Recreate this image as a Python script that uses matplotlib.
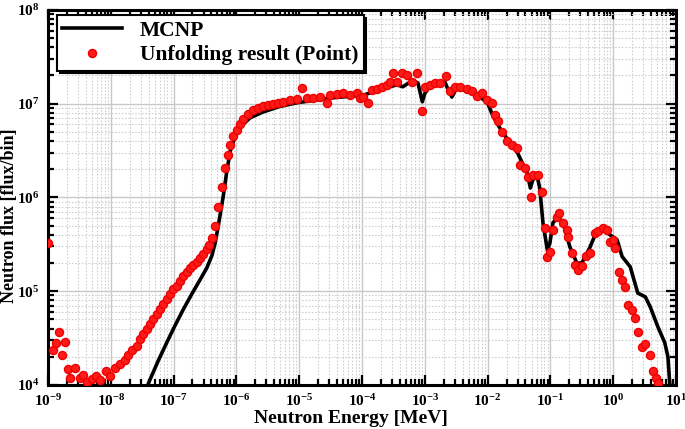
import numpy as np
import matplotlib
matplotlib.use("Agg")
import matplotlib.pyplot as plt
from matplotlib.ticker import LogLocator, NullFormatter

plt.rcParams['font.family'] = ['Liberation Serif', 'DejaVu Serif']
plt.rcParams['font.weight'] = 'bold'
plt.rcParams['mathtext.fontset'] = 'custom'
plt.rcParams['mathtext.rm'] = 'Liberation Serif:bold'
plt.rcParams['mathtext.it'] = 'Liberation Serif:bold'
plt.rcParams['mathtext.bf'] = 'Liberation Serif:bold'

# MCNP (log10 energy [MeV], log10 flux)
mcnp_log_e = [-7.41, -7.38, -7.25, -7.11, -6.98, -6.85, -6.71, -6.58, -6.47, -6.39,
              -6.34, -6.29, -6.21, -6.15, -6.10, -6.02, -5.94, -5.78, -5.58, -5.31,
              -5.03, -4.51, -3.98, -3.63, -3.44, -3.35, -3.19, -3.11, -3.04, -3.00,
              -2.92, -2.68, -2.63, -2.57, -2.49, -2.23, -2.01, -1.91, -1.77, -1.64,
              -1.52, -1.45, -1.37, -1.32, -1.28, -1.21, -1.17, -1.12, -1.05, -1.01,
              -0.96, -0.88, -0.80, -0.69, -0.58, -0.50, -0.37, -0.26, -0.16, -0.05,
              0.06, 0.14, 0.27, 0.39, 0.51, 0.59, 0.71, 0.82, 0.87, 0.90, 0.92]
mcnp_log_f = [4.00, 4.05, 4.25, 4.45, 4.63, 4.80, 4.97, 5.12, 5.25, 5.38,
              5.51, 5.69, 6.01, 6.29, 6.49, 6.65, 6.75, 6.85, 6.91, 6.97,
              7.01, 7.06, 7.09, 7.17, 7.20, 7.18, 7.25, 7.22, 7.02, 7.11,
              7.18, 7.23, 7.15, 7.07, 7.17, 7.11, 7.02, 6.86, 6.70, 6.58,
              6.47, 6.37, 6.26, 6.10, 6.19, 6.22, 6.10, 5.73, 5.44, 5.51,
              5.73, 5.79, 5.73, 5.47, 5.30, 5.30, 5.47, 5.65, 5.65, 5.60,
              5.55, 5.37, 5.26, 4.98, 4.94, 4.83, 4.62, 4.45, 4.30, 4.00, 3.70]

# Unfolding result (log10 energy [MeV], log10 flux)
unf_log_e = [-9.00, -8.92, -8.87, -8.82, -8.78, -8.73, -8.68, -8.65, -8.57, -8.49,
             -8.44, -8.38, -8.30, -8.24, -8.17, -8.08, -8.01, -7.93, -7.85, -7.77,
             -7.73, -7.66, -7.58, -7.54, -7.49, -7.42, -7.38, -7.33, -7.26, -7.22,
             -7.17, -7.11, -7.06, -7.01, -6.95, -6.90, -6.85, -6.79, -6.74, -6.69,
             -6.63, -6.58, -6.53, -6.47, -6.44, -6.39, -6.34, -6.29, -6.23, -6.18,
             -6.13, -6.10, -6.05, -5.99, -5.94, -5.89, -5.82, -5.74, -5.66, -5.58,
             -5.50, -5.42, -5.34, -5.26, -5.15, -5.03, -4.96, -4.88, -4.78, -4.67,
             -4.56, -4.51, -4.40, -4.30, -4.19, -4.08, -4.03, -3.98, -3.90, -3.84,
             -3.76, -3.68, -3.60, -3.55, -3.51, -3.44, -3.36, -3.28, -3.20, -3.12,
             -3.04, -3.00, -2.92, -2.84, -2.76, -2.66, -2.60, -2.52, -2.44, -2.33,
             -2.25, -2.17, -2.09, -2.01, -1.93, -1.88, -1.83, -1.77, -1.69, -1.61,
             -1.53, -1.48, -1.40, -1.36, -1.31, -1.28, -1.20, -1.13, -1.09, -1.05,
             -1.01, -0.96, -0.89, -0.86, -0.80, -0.74, -0.72, -0.66, -0.61, -0.56,
             -0.50, -0.43, -0.37, -0.29, -0.24, -0.16, -0.10, -0.05, 0.00, 0.03,
             0.09, 0.14, 0.19, 0.24, 0.30, 0.35, 0.39, 0.46, 0.51, 0.59,
             0.63, 0.68, 0.71]
unf_log_f = [5.51, 4.37, 4.45, 4.57, 4.32, 4.46, 4.17, 4.07, 4.18, 4.07,
             4.11, 4.03, 4.06, 4.10, 4.05, 4.15, 4.10, 4.18, 4.22, 4.27,
             4.32, 4.37, 4.42, 4.49, 4.54, 4.60, 4.65, 4.70, 4.76, 4.81,
             4.86, 4.92, 4.97, 5.02, 5.06, 5.11, 5.16, 5.21, 5.25, 5.28,
             5.31, 5.35, 5.40, 5.45, 5.49, 5.57, 5.70, 5.90, 6.11, 6.31,
             6.45, 6.56, 6.65, 6.72, 6.78, 6.84, 6.89, 6.93, 6.95, 6.98,
             6.99, 7.00, 7.01, 7.02, 7.04, 7.05, 7.17, 7.06, 7.06, 7.07,
             7.01, 7.09, 7.10, 7.11, 7.09, 7.11, 7.06, 7.07, 7.01, 7.15,
             7.16, 7.18, 7.20, 7.23, 7.33, 7.23, 7.33, 7.31, 7.23, 7.33,
             6.92, 7.18, 7.20, 7.22, 7.22, 7.29, 7.14, 7.18, 7.18, 7.16,
             7.13, 7.08, 7.11, 7.04, 7.01, 6.88, 6.81, 6.70, 6.60, 6.56,
             6.53, 6.35, 6.31, 6.22, 6.00, 6.24, 6.24, 6.06, 5.67, 5.37,
             5.42, 5.65, 5.79, 5.83, 5.73, 5.65, 5.58, 5.41, 5.28, 5.23,
             5.27, 5.38, 5.41, 5.62, 5.64, 5.67, 5.65, 5.53, 5.55, 5.46,
             5.21, 5.12, 5.05, 4.85, 4.80, 4.71, 4.57, 4.41, 4.44, 4.32,
             4.15, 4.07, 4.02]

mcnp_e = 10.0 ** np.array(mcnp_log_e)
mcnp_f = 10.0 ** np.array(mcnp_log_f)
unf_e = 10.0 ** np.array(unf_log_e)
unf_f = 10.0 ** np.array(unf_log_f)

fig = plt.figure(figsize=(6.85, 4.29), dpi=100)
ax = fig.add_axes([0.070, 0.1026, 0.917, 0.8744])

ax.plot(mcnp_e, mcnp_f, color='black', lw=2.6, label='MCNP', zorder=3)
ax.plot(unf_e, unf_f, 'o', color='#ff1a1a', ms=5.8, mec='#ee0000', mew=1.0,
        label='Unfolding result (Point)', zorder=4)

ax.set_xscale('log')
ax.set_yscale('log')
ax.set_xlim(1e-9, 1e1)
ax.set_ylim(1e4, 1e8)

ax.xaxis.set_major_locator(LogLocator(base=10, numticks=20))
ax.xaxis.set_minor_locator(LogLocator(base=10, subs=np.arange(2, 10), numticks=20))
ax.yaxis.set_major_locator(LogLocator(base=10, numticks=20))
ax.yaxis.set_minor_locator(LogLocator(base=10, subs=np.arange(2, 10), numticks=20))
ax.xaxis.set_minor_formatter(NullFormatter())
ax.yaxis.set_minor_formatter(NullFormatter())

ax.grid(True, which='major', color='#c8c8c8', lw=1.0, ls='-')
ax.grid(True, which='minor', color='#d0d0d0', lw=0.8, ls=(0, (1.5, 1.5)))
ax.set_axisbelow(True)

ax.tick_params(which='both', direction='in', top=True, right=True, width=1.6)
ax.tick_params(which='major', length=7, labelsize=11, pad=6)
ax.tick_params(which='minor', length=4)
for sp in ax.spines.values():
    sp.set_linewidth(2.2)

ax.set_xlabel('Neutron Energy [MeV]', fontsize=14, fontweight='bold')
ax.xaxis.set_label_coords(0.483, -0.068)
ax.set_ylabel('Neutron flux [flux/bin]', fontsize=13, fontweight='bold')
ax.yaxis.set_label_coords(-0.047, 0.45)

leg = ax.legend(loc='upper left', bbox_to_anchor=(0.014, 0.985),
                frameon=True, fancybox=False, borderaxespad=0,
                shadow={'color': 'black', 'alpha': 1.0},
                handlelength=2.8, borderpad=0.25, labelspacing=0.2,
                prop={'weight': 'bold', 'size': 15.5})
leg.get_frame().set_edgecolor('black')
leg.get_frame().set_linewidth(1.5)
leg.get_frame().set_alpha(1.0)

fig.savefig('out.png', dpi=100)
